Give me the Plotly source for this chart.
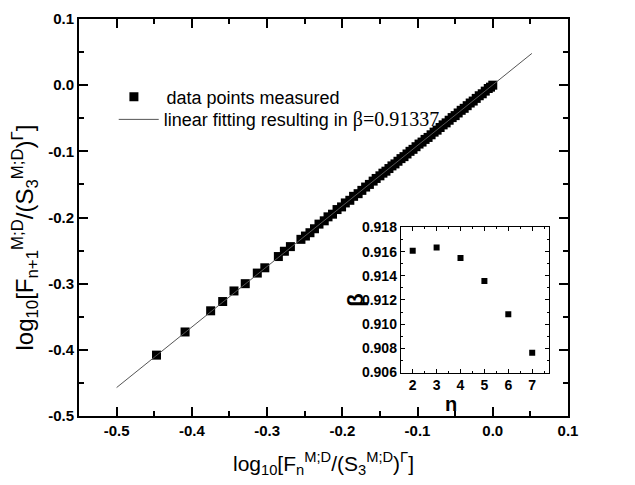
import plotly.graph_objects as go

# main data
data_x = [-0.447, -0.409, -0.375, -0.359, -0.344, -0.329, -0.313, -0.303, -0.285, -0.277, -0.269,
          -0.255, -0.249, -0.243, -0.237, -0.231, -0.224, -0.219, -0.213, -0.207, -0.201, -0.196,
          -0.190, -0.185, -0.179, -0.174, -0.169, -0.164, -0.159, -0.155, -0.150, -0.146, -0.142,
          -0.138, -0.134, -0.130, -0.126, -0.122, -0.118, -0.114, -0.110, -0.106, -0.102, -0.098,
          -0.094, -0.090, -0.086, -0.082, -0.078, -0.074, -0.070, -0.066, -0.062, -0.058, -0.054,
          -0.050, -0.046, -0.042, -0.038, -0.034, -0.030, -0.026, -0.022, -0.018, -0.014, -0.010,
          -0.006, -0.003, 0.000]
data_y = [-0.408, -0.373, -0.341, -0.327, -0.311, -0.300, -0.284, -0.276, -0.259, -0.251, -0.244,
          -0.233, -0.228, -0.223, -0.217, -0.210, -0.205, -0.199, -0.195, -0.188, -0.184, -0.178,
          -0.174, -0.168, -0.164, -0.159, -0.154, -0.150, -0.145, -0.141, -0.137, -0.133, -0.130,
          -0.126, -0.122, -0.119, -0.115, -0.111, -0.108, -0.104, -0.100, -0.097, -0.093, -0.089,
          -0.086, -0.082, -0.079, -0.075, -0.071, -0.068, -0.064, -0.060, -0.057, -0.053, -0.049,
          -0.046, -0.042, -0.038, -0.035, -0.031, -0.027, -0.024, -0.020, -0.016, -0.013, -0.009,
          -0.005, -0.003, 0.000]

fit_x = [-0.5, 0.052]
fit_y = [-0.457, 0.048]

# inset data
n_vals = [2, 3, 4, 5, 6, 7]
beta_vals = [0.91607, 0.91634, 0.91547, 0.91357, 0.91082, 0.90763]

x_ticks = [-0.5, -0.4, -0.3, -0.2, -0.1, 0.0, 0.1]
x_ticklabels = ["-0.5", "-0.4", "-0.3", "-0.2", "-0.1", "0.0", "0.1"]
y_ticks = [-0.5, -0.4, -0.3, -0.2, -0.1, 0.0, 0.1]
y_ticklabels = ["-0.5", "-0.4", "-0.3", "-0.2", "-0.1", "0.0", "0.1"]
inset_xticks = [2, 3, 4, 5, 6, 7]
inset_yticks = [0.906, 0.908, 0.910, 0.912, 0.914, 0.916, 0.918]
inset_ylabels = ["0.906", "0.908", "0.910", "0.912", "0.914", "0.916", "0.918"]

SANS = "Liberation Sans, Arial, sans-serif"
SERIF = "Liberation Serif, Times New Roman, serif"

fig = go.Figure()
fig.add_trace(go.Scatter(x=data_x, y=data_y, mode="markers",
                         marker=dict(symbol="square", size=9, color="black", line=dict(width=0)),
                         name="\u2009data points measured", legend="legend"))
fig.add_trace(go.Scatter(x=fit_x, y=fit_y, mode="lines",
                         line=dict(color="#555555", width=1),
                         name="linear fitting resulting in <span style='font-family:" + SERIF + ";font-size:20px'>β=0.91337</span>",
                         legend="legend2"))
fig.add_trace(go.Scatter(x=n_vals, y=beta_vals, mode="markers", xaxis="x2", yaxis="y2",
                         marker=dict(symbol="square", size=6, color="black"), showlegend=False))

fig.update_layout(
    width=635, height=485,
    margin=dict(l=71, r=75, t=2, b=77),
    paper_bgcolor="white", plot_bgcolor="white",
    font=dict(family=SANS, color="black"),
    showlegend=True,
    legend=dict(x=0.053, y=0.85, xanchor="left", yanchor="top", bgcolor="rgba(0,0,0,0)",
                font=dict(size=18, family=SANS), itemwidth=48),
    legend2=dict(x=0.071, y=0.793, xanchor="left", yanchor="top", bgcolor="rgba(0,0,0,0)",
                 font=dict(size=18, family=SANS), itemwidth=40),
    xaxis=dict(range=[-0.55, 0.1], tickvals=x_ticks, ticktext=x_ticklabels,
               showline=True, linecolor="black", linewidth=2, mirror="ticks",
               ticks="inside", ticklen=9, tickwidth=2, tickcolor="black",
               minor=dict(ticks="inside", ticklen=5, tickwidth=1.5, dtick=0.05, tickcolor="black"),
               showgrid=False, zeroline=False, ticklabeloverflow="allow",
               tickfont=dict(size=15, family=SANS, weight="bold"),
               title=dict(text="log<sub>10</sub>[F<sub>n</sub><sup>M;D</sup>/(S<sub>3</sub><sup>M;D</sup>)<sup>Γ</sup>]",
                          font=dict(size=21, family=SANS), standoff=18)),
    yaxis=dict(range=[-0.5, 0.1], tickvals=y_ticks, ticktext=y_ticklabels,
               showline=True, linecolor="black", linewidth=2, mirror="ticks",
               ticks="inside", ticklen=9, tickwidth=2, tickcolor="black",
               minor=dict(ticks="inside", ticklen=5, tickwidth=1.5, dtick=0.05, tickcolor="black"),
               showgrid=False, zeroline=False, ticklabeloverflow="allow",
               tickfont=dict(size=15, family=SANS, weight="bold")),
    xaxis2=dict(domain=[0.658, 0.961], anchor="y2", range=[1.5, 7.7], tickvals=inset_xticks,
                showline=True, linecolor="black", linewidth=1, mirror="ticks",
                ticks="inside", ticklen=4, tickcolor="black",
                minor=dict(ticks="inside", ticklen=2, dtick=0.5, tickcolor="black"),
                showgrid=False, zeroline=False,
                tickfont=dict(size=14, family=SANS, weight="bold")),
    yaxis2=dict(domain=[0.1095, 0.475], anchor="x2", range=[0.906, 0.918],
                tickvals=inset_yticks, ticktext=inset_ylabels,
                showline=True, linecolor="black", linewidth=1, mirror="ticks",
                ticks="inside", ticklen=4, tickcolor="black",
                minor=dict(ticks="inside", ticklen=2, dtick=0.001, tickcolor="black"),
                showgrid=False, zeroline=False,
                tickfont=dict(size=14, family=SANS, weight="bold")),
    annotations=[
        dict(text="log<sub>10</sub>[F<sub>n+1</sub><sup>M;D</sup>/(S<sub>3</sub><sup>M;D</sup>)<sup>Γ</sup>]",
             xref="paper", yref="paper", x=0, y=0.5, xshift=-55, yshift=-20,
             showarrow=False, textangle=-90, font=dict(size=24, family=SANS),
             xanchor="center", yanchor="middle"),
        dict(text="<b>n</b>", xref="x2 domain", yref="y2 domain", x=0.34, y=0, yshift=-31,
             showarrow=False, font=dict(size=20, family=SANS), xanchor="center", yanchor="middle"),
        dict(text="<b>β</b>", xref="x2 domain", yref="y2 domain", x=0, y=0.5, xshift=-45,
             showarrow=False, font=dict(size=22, family=SANS), xanchor="center", yanchor="middle",
             textangle=-90),
    ],
)

fig.write_html("out.html")
